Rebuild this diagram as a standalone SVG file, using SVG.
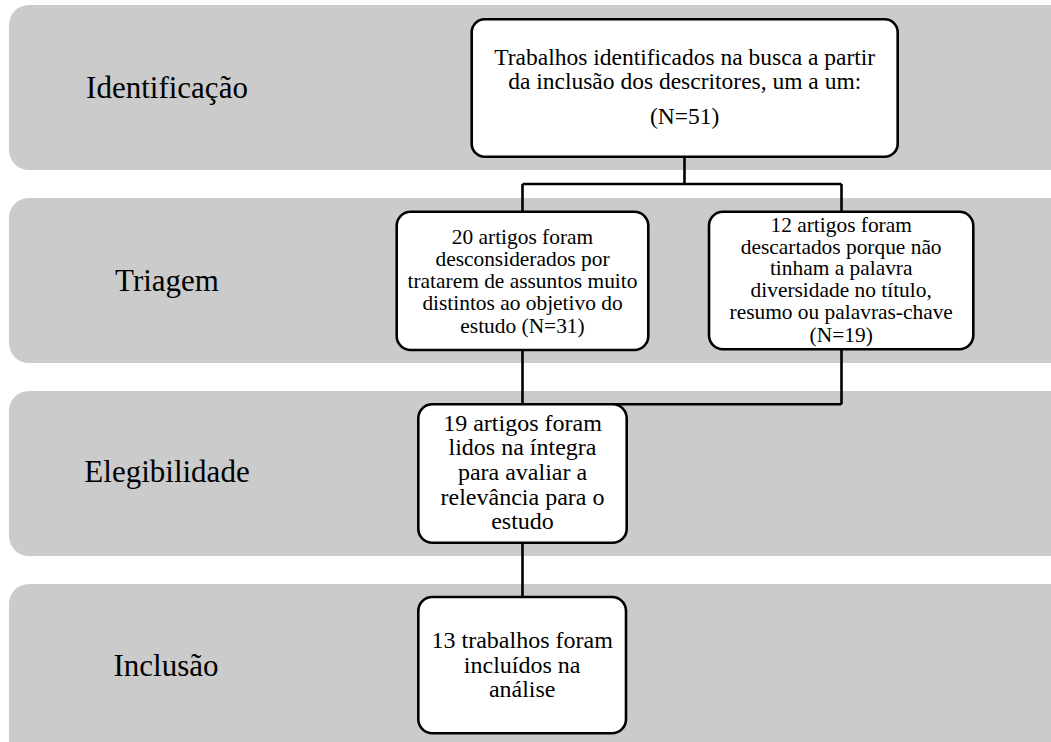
<svg xmlns="http://www.w3.org/2000/svg" width="1051" height="742" viewBox="0 0 1051 742">
<style>
.band{fill:#cbcbcb;stroke:none}
.lbl{font-family:"Liberation Serif","Times New Roman",serif;font-size:31px;fill:#000;text-anchor:middle}
.box{fill:#fff;stroke:#000;stroke-width:2.6}
.t{font-family:"Liberation Serif","Times New Roman",serif;fill:#000;text-anchor:middle}
.conn{stroke:#000;stroke-width:2.6;fill:none}
</style>
<rect width="1051" height="742" fill="#fff"/>
<g id="bands">
<rect class="band" x="9" y="5" width="1080" height="165" rx="20"/>
<rect class="band" x="9" y="198" width="1080" height="165" rx="20"/>
<rect class="band" x="9" y="391" width="1080" height="165" rx="20"/>
<rect class="band" x="9" y="584" width="1080" height="180" rx="20"/>
<text class="lbl" x="167" y="98">Identificação</text>
<text class="lbl" x="167" y="291">Triagem</text>
<text class="lbl" x="167" y="482">Elegibilidade</text>
<text class="lbl" x="166" y="676">Inclusão</text>
</g>
<g id="connectors">
<path class="conn" d="M684.5 156.7V184M522.5 184H841.5M522.5 184V211.7M841.5 184V211.7M522.5 350V404.3M841.5 349.3V404.3M522.5 404.3H841.5M522.5 542.7V597"/>
</g>
<g id="node-identificacao">
<rect class="box" x="471.7" y="19.3" width="426" height="137.4" rx="13"/>
<text class="t" font-size="23.5" x="684.7"><tspan x="684.7" y="65">Trabalhos identificados na busca a partir</tspan><tspan x="684.7" y="89">da inclusão dos descritores, um a um:</tspan><tspan x="684.7" y="124">(N=51)</tspan></text>
</g>
<g id="node-triagem-1">
<rect class="box" x="396.7" y="211.7" width="251.6" height="138.3" rx="14"/>
<text class="t" font-size="21.4"><tspan x="522.5" y="244">20 artigos foram</tspan><tspan x="522.5" y="266">desconsiderados por</tspan><tspan x="522.5" y="288">tratarem de assuntos muito</tspan><tspan x="522.5" y="310">distintos ao objetivo do</tspan><tspan x="522.5" y="332.5">estudo (N=31)</tspan></text>
</g>
<g id="node-triagem-2">
<rect class="box" x="709" y="211.7" width="264.3" height="137.6" rx="14"/>
<text class="t" font-size="21.4"><tspan x="841.2" y="231.7">12 artigos foram</tspan><tspan x="841.2" y="253.5">descartados porque não</tspan><tspan x="841.2" y="275.3">tinham a palavra</tspan><tspan x="841.2" y="297.3">diversidade no título,</tspan><tspan x="841.2" y="319.3">resumo ou palavras-chave</tspan><tspan x="841.2" y="341.5">(N=19)</tspan></text>
</g>
<g id="node-elegibilidade">
<rect class="box" x="418.3" y="404.3" width="208.4" height="138.4" rx="14"/>
<text class="t" font-size="24"><tspan x="522.5" y="430.7">19 artigos foram</tspan><tspan x="522.5" y="455.3">lidos na íntegra</tspan><tspan x="522.5" y="479.9">para avaliar a</tspan><tspan x="522.5" y="504.5">relevância para o</tspan><tspan x="522.5" y="529.1">estudo</tspan></text>
</g>
<g id="node-inclusao">
<rect class="box" x="418.3" y="597" width="207.7" height="136.3" rx="14"/>
<text class="t" font-size="24"><tspan x="522.2" y="648">13 trabalhos foram</tspan><tspan x="522.2" y="672.5">incluídos na</tspan><tspan x="522.2" y="697">análise</tspan></text>
</g>
</svg>
